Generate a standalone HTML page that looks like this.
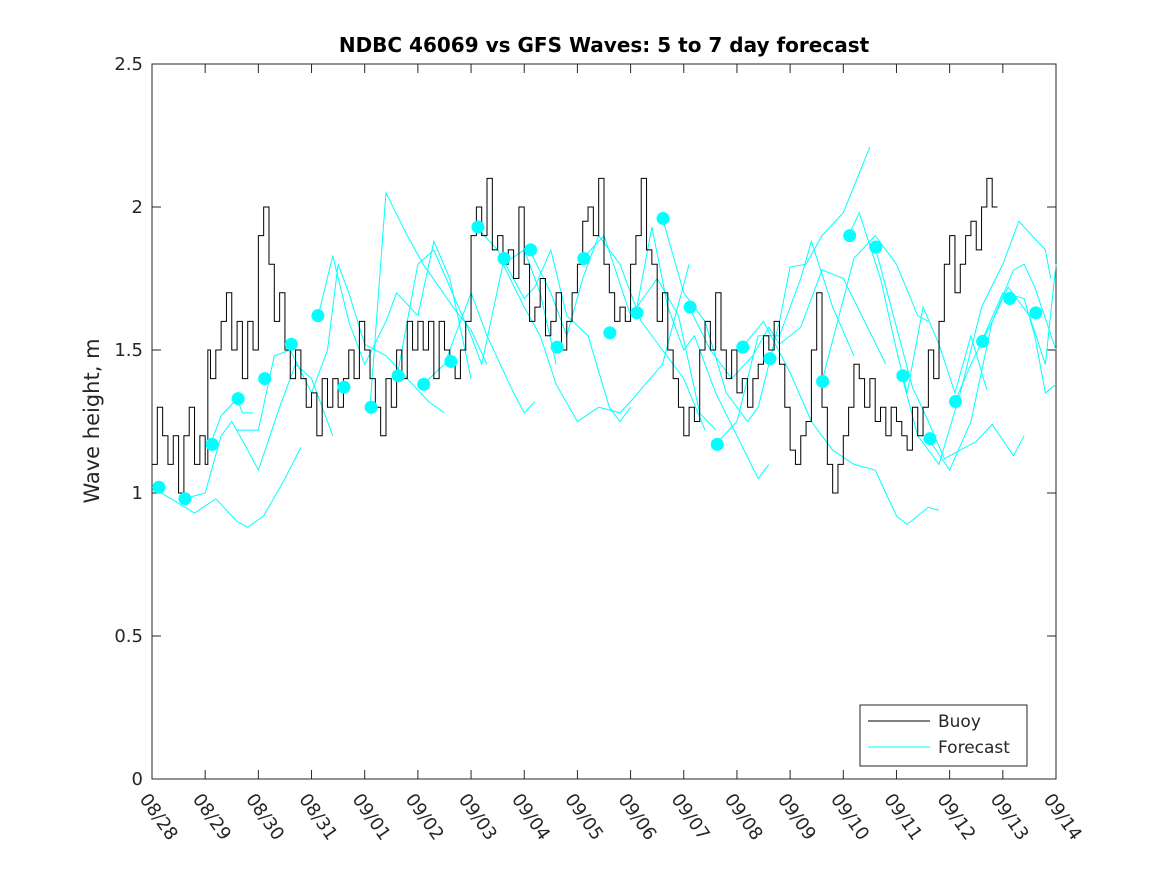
<!DOCTYPE html>
<html><head><meta charset="utf-8"><style>
body{margin:0;background:#fff;}
svg text{font-family:"DejaVu Sans","Liberation Sans",sans-serif;fill:#262626;}
</style></head><body>
<svg id="chart" width="1167" height="875" xmlns="http://www.w3.org/2000/svg">
<rect width="1167" height="875" fill="#fff"/>
<g id="plot"></g>
</svg>
<script>
const xTicks=["08/28","08/29","08/30","08/31","09/01","09/02","09/03","09/04","09/05","09/06","09/07","09/08","09/09","09/10","09/11","09/12","09/13","09/14"];
const yTicks=[0,0.5,1,1.5,2,2.5];
const buoyDays=[0,0.1,0.2,0.3,0.4,0.5,0.6,0.7,0.8,0.9,1.0,1.05,1.1,1.2,1.3,1.4,1.5,1.6,1.7,1.8,1.9,2.0,2.1,2.2,2.3,2.4,2.5,2.6,2.7,2.8,2.9,3.0,3.1,3.2,3.3,3.4,3.5,3.6,3.7,3.8,3.9,4.0,4.1,4.2,4.3,4.4,4.5,4.6,4.7,4.8,4.9,5.0,5.1,5.2,5.3,5.4,5.5,5.6,5.7,5.8,5.9,6.0,6.1,6.2,6.3,6.4,6.5,6.6,6.7,6.8,6.9,7.0,7.1,7.2,7.3,7.4,7.5,7.6,7.7,7.8,7.9,8.0,8.1,8.2,8.3,8.4,8.5,8.6,8.7,8.8,8.9,9.0,9.1,9.2,9.3,9.4,9.5,9.6,9.7,9.8,9.9,10.0,10.1,10.2,10.3,10.4,10.5,10.6,10.7,10.8,10.9,11.0,11.1,11.2,11.3,11.4,11.5,11.6,11.7,11.8,11.9,12.0,12.1,12.2,12.3,12.4,12.5,12.6,12.7,12.8,12.9,13.0,13.1,13.2,13.3,13.4,13.5,13.6,13.7,13.8,13.9,14.0,14.1,14.2,14.3,14.4,14.5,14.6,14.7,14.8,14.9,15.0,15.1,15.2,15.3,15.4,15.5,15.6,15.7,15.8,15.9,16.0,16.1,16.2,16.3];
const buoyVals=[1.1,1.3,1.2,1.1,1.2,1.0,1.2,1.3,1.1,1.2,1.1,1.5,1.4,1.5,1.6,1.7,1.5,1.6,1.4,1.6,1.5,1.9,2.0,1.8,1.6,1.7,1.5,1.4,1.5,1.4,1.3,1.35,1.2,1.4,1.3,1.4,1.3,1.4,1.5,1.4,1.6,1.5,1.4,1.3,1.2,1.4,1.3,1.5,1.4,1.6,1.5,1.6,1.5,1.6,1.4,1.6,1.5,1.45,1.4,1.5,1.6,1.9,2.0,1.9,2.1,1.85,1.9,1.8,1.85,1.75,2.0,1.8,1.6,1.65,1.75,1.55,1.6,1.7,1.5,1.6,1.7,1.8,1.95,2.0,1.9,2.1,1.8,1.7,1.6,1.65,1.6,1.8,1.9,2.1,1.85,1.8,1.6,1.7,1.5,1.4,1.3,1.2,1.3,1.25,1.5,1.6,1.5,1.7,1.5,1.4,1.5,1.35,1.4,1.3,1.4,1.45,1.55,1.5,1.6,1.45,1.3,1.15,1.1,1.2,1.25,1.5,1.7,1.3,1.1,1.0,1.1,1.2,1.3,1.45,1.4,1.3,1.4,1.25,1.3,1.2,1.3,1.25,1.2,1.15,1.3,1.2,1.3,1.5,1.4,1.6,1.8,1.9,1.7,1.8,1.9,1.95,1.85,2.0,2.1,2.0];
const dotDays=[0.13,0.62,1.13,1.62,2.12,2.62,3.12,3.61,4.12,4.63,5.11,5.62,6.13,6.62,7.12,7.62,8.12,8.61,9.12,9.61,10.12,10.63,11.11,11.62,12.61,13.12,13.61,14.12,14.63,15.11,15.62,16.13,16.62];
const dotVals=[1.02,0.98,1.17,1.33,1.40,1.52,1.62,1.37,1.30,1.41,1.38,1.46,1.93,1.82,1.85,1.51,1.82,1.56,1.63,1.96,1.65,1.17,1.51,1.47,1.39,1.90,1.86,1.41,1.19,1.32,1.53,1.68,1.63];
const fcDays=[
[0,0.8,1.2,1.6,1.8,2.1,2.5,2.8],
[0.6,1.0,1.3,1.5,1.8,2.0,2.4,2.7,3.0,3.3,3.4],
[1.1,1.3,1.6,1.7,1.9],
[1.6,2.0,2.3,2.6,3.0,3.3,3.5,3.7,4.0,4.4,4.8,5.2,5.5],
[3.1,3.4,3.7,4.0,4.4,4.6,5.0,5.3,5.6,6.0],
[4.1,4.4,4.8,5.1,5.4,5.7,6.0,6.3],
[4.6,5.0,5.3,5.6,6.0,6.2,6.6,7.0,7.3,7.6],
[5.1,5.5,6.0,6.3,6.8,7.0,7.2],
[6.1,6.5,7.0,7.2,7.5,7.8,8.2,8.6,8.8,9.0],
[6.6,7.0,7.3,7.6,8.0,8.4,8.8,9.0,9.6,10.1],
[7.1,7.5,7.8,8.1,8.4,8.8,9.2,9.6,10.0,10.4],
[8.1,8.5,9.0,9.5,9.9,10.3,10.6],
[9.1,9.4,9.7,10.0,10.2,10.6,11.0,11.4,11.6],
[9.6,10.0,10.4,10.8,11.2,11.4,11.8,12.0,12.3,12.6,13.0,13.5],
[10.1,10.5,10.9,11.3,11.6,11.8,12.2,12.6,13.0,13.4,13.8],
[10.6,11.0,11.4,11.8,12.2,12.4,12.8,13.2],
[11.1,11.5,12.0,12.4,12.8,13.2,13.6,13.8,14.0,14.2,14.6,14.8],
[12.6,13.2,13.6,14.0,14.4,14.6],
[13.1,13.3,13.7,14.0,14.2,14.5,14.8,15.1,15.4,15.7],
[13.6,14.0,14.3,14.6,14.9,15.2,15.5,15.8,16.2,16.4],
[14.1,14.4,14.8,15.2,15.6,16.0,16.3,16.8,16.9],
[14.6,15.0,15.4,15.8,16.2,16.4,16.6,17.0],
[15.1,15.4,15.8,16.1,16.5,16.8,17.0],
[15.6,16.0,16.4,16.6,16.8,17.0]];
const fcVals=[
[1.02,0.93,0.98,0.9,0.88,0.92,1.05,1.16],
[0.98,1.0,1.2,1.25,1.15,1.08,1.3,1.45,1.4,1.25,1.2],
[1.17,1.27,1.33,1.28,1.28],
[1.22,1.22,1.48,1.5,1.35,1.5,1.8,1.7,1.52,1.48,1.4,1.32,1.28],
[1.6,1.83,1.6,1.45,1.6,1.7,1.62,1.88,1.75,1.4],
[1.3,2.05,1.9,1.8,1.72,1.64,1.57,1.45],
[1.4,1.8,1.85,1.72,1.55,1.45,1.8,1.85,1.7,1.45],
[1.38,1.45,1.7,1.55,1.35,1.28,1.32],
[1.93,1.85,1.68,1.72,1.85,1.62,1.55,1.3,1.25,1.3],
[1.8,1.65,1.55,1.38,1.25,1.3,1.28,1.32,1.45,1.8],
[1.85,1.7,1.55,1.75,1.9,1.8,1.6,1.5,1.4,1.22],
[1.82,1.9,1.62,1.75,1.62,1.28,1.22],
[1.63,1.93,1.65,1.5,1.55,1.35,1.2,1.05,1.1],
[1.96,1.7,1.6,1.35,1.25,1.3,1.6,1.79,1.8,1.9,1.98,2.21],
[1.65,1.5,1.4,1.48,1.58,1.52,1.58,1.78,1.75,1.6,1.45],
[1.17,1.25,1.55,1.55,1.75,1.88,1.65,1.48],
[1.51,1.6,1.42,1.25,1.15,1.1,1.08,1.0,0.92,0.89,0.95,0.94],
[1.39,1.82,1.9,1.8,1.62,1.6],
[1.9,1.98,1.75,1.5,1.35,1.65,1.52,1.35,1.55,1.36],
[1.86,1.58,1.37,1.25,1.12,1.15,1.18,1.24,1.13,1.2],
[1.41,1.2,1.1,1.35,1.65,1.8,1.95,1.85,1.75],
[1.19,1.08,1.25,1.6,1.78,1.8,1.72,1.5],
[1.32,1.45,1.6,1.72,1.62,1.45,1.8],
[1.53,1.7,1.68,1.55,1.35,1.38]];

const L=152,R=1056,T=64,B=779,NS="http://www.w3.org/2000/svg";
const X=d=>L+d*(R-L)/17, Y=v=>B-v*(B-T)/2.5;
const g=document.getElementById('plot');
function mk(tag,attrs,parent){const e=document.createElementNS(NS,tag);for(const k in attrs)e.setAttribute(k,attrs[k]);(parent||g).appendChild(e);return e;}

const frame=mk('rect',{x:L,y:T,width:R-L,height:B-T,fill:'#fff',stroke:'#262626','stroke-width':1});



xTicks.forEach((t,i)=>{const x=X(i);
 const a=mk('line',{x1:x,y1:B,x2:x,y2:B-9,stroke:'#262626'});
 
 
 const b=mk('line',{x1:x,y1:T,x2:x,y2:T+9,stroke:'#262626'});
 
 
 const tx=mk('text',{x:0,y:0,'font-size':18,transform:`translate(${x-13},${B+20}) rotate(55)`});
 tx.textContent=t;
 
 
});
yTicks.forEach(v=>{const y=Y(v);
 const a=mk('line',{x1:L,y1:y,x2:L+9,y2:y,stroke:'#262626'});
 
 
 const b=mk('line',{x1:R,y1:y,x2:R-9,y2:y,stroke:'#262626'});
 
 
 const tx=mk('text',{x:L-9,y:y+6,'font-size':18,'text-anchor':'end'});
 tx.textContent=String(v);
 
 
});

fcDays.forEach((ds,i)=>{
 const p=mk('polyline',{points:ds.map((d,j)=>X(d)+','+Y(fcVals[i][j])).join(' '),fill:'none',stroke:'#00ffff','stroke-width':1});
 
 
});
let pts=[];buoyDays.forEach((d,i)=>{const x=X(d),y=Y(buoyVals[i]);if(i>0)pts.push(x+','+Y(buoyVals[i-1]));pts.push(x+','+y);});
const bl=mk('polyline',{points:pts.join(' '),fill:'none',stroke:'#000','stroke-width':1});


dotDays.forEach((d,i)=>{
 const c=mk('circle',{cx:X(d),cy:Y(dotVals[i]),r:6.5,fill:'#00ffff'});
 
 
});

const title=mk('text',{x:604,y:52,'font-size':20,'font-weight':'bold','text-anchor':'middle',style:'fill:#000'});
title.textContent='NDBC 46069 vs GFS Waves: 5 to 7 day forecast';


const yt=mk('text',{x:0,y:0,'font-size':21,'text-anchor':'middle',transform:'translate(99,421) rotate(-90)'});
yt.textContent='Wave height, m';



const lg=mk('g',{});


mk('rect',{x:860,y:705,width:167,height:61,fill:'#fff',stroke:'#262626'},lg);
mk('line',{x1:868,y1:721,x2:930,y2:721,stroke:'#000'},lg);
mk('line',{x1:868,y1:747,x2:930,y2:747,stroke:'#00ffff'},lg);
const l1=mk('text',{x:938,y:727,'font-size':17},lg);l1.textContent='Buoy';


const l2=mk('text',{x:938,y:753,'font-size':17},lg);l2.textContent='Forecast';


</script>
</body></html>
